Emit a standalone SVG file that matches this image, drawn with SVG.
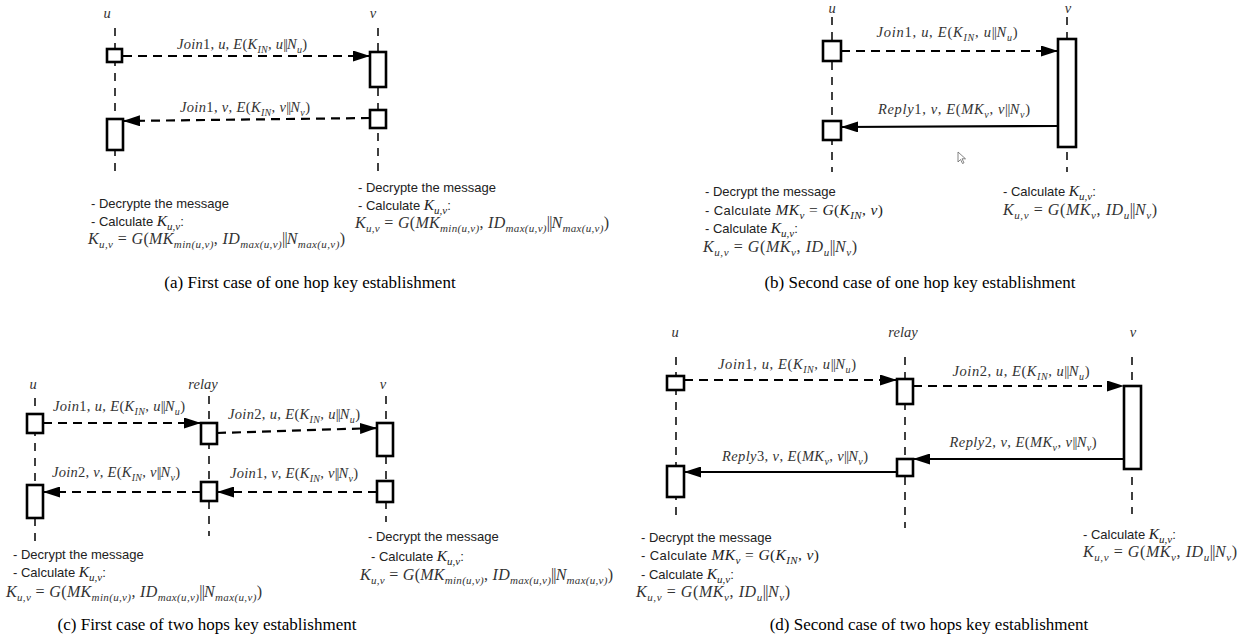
<svg xmlns="http://www.w3.org/2000/svg" width="1239" height="639" viewBox="0 0 1239 639">
<defs>
<marker id="ah" viewBox="0 0 17 11" refX="17" refY="5.5" markerWidth="17" markerHeight="11" orient="auto" markerUnits="userSpaceOnUse"><path d="M0,0 L17,5.5 L0,11 z" fill="#000"/></marker>
</defs>
<style>
.ll{stroke:#111;stroke-width:1.6;stroke-dasharray:8 7;fill:none}
.bx{fill:#fff;stroke:#000;stroke-width:2.6}
.da{stroke:#000;stroke-width:2.2;stroke-dasharray:9 6;fill:none;marker-end:url(#ah)}
.so{stroke:#000;stroke-width:2.2;fill:none;marker-end:url(#ah)}
.m{font-family:"Liberation Serif",serif;font-size:14.5px;fill:#333}
.f{font-size:16px}
.t{font-family:"Liberation Sans",Arial,sans-serif;font-size:13px;fill:#222}
.mf{font-family:"Liberation Serif",serif;font-size:15.5px}
.i{font-style:italic}
.s{font-size:10px;baseline-shift:-3.5px;font-style:italic}
.f .s,.t .s{font-size:11px}
.b{font-style:normal;letter-spacing:-1.2px}
.cap{font-family:"Liberation Serif",serif;font-size:17px;fill:#000;text-anchor:middle}
.c{text-anchor:middle}
</style>
<rect width="1239" height="639" fill="#fff"/>

<g id="connectors">
<line class="ll" x1="115" y1="28" x2="115" y2="176"/>
<line class="ll" x1="378" y1="28" x2="378" y2="172"/>
<line class="ll" x1="832" y1="17" x2="832" y2="172"/>
<line class="ll" x1="1067" y1="17" x2="1067" y2="172"/>
<line class="ll" x1="35" y1="398" x2="35" y2="546"/>
<line class="ll" x1="209" y1="396" x2="209" y2="536"/>
<line class="ll" x1="386" y1="396" x2="386" y2="522"/>
<line class="ll" x1="676" y1="357" x2="676" y2="521"/>
<line class="ll" x1="905" y1="357" x2="905" y2="528"/>
<line class="ll" x1="1132" y1="357" x2="1132" y2="514"/>
<line class="da" x1="123" y1="56" x2="370" y2="56"/>
<line class="da" x1="370" y1="118" x2="123" y2="121"/>
<line class="da" x1="841" y1="51" x2="1058" y2="51"/>
<line class="so" x1="1058" y1="126" x2="841" y2="127"/>
<line class="da" x1="43" y1="423" x2="201" y2="423"/>
<line class="da" x1="217" y1="433" x2="377" y2="428"/>
<line class="da" x1="377" y1="492" x2="217" y2="492"/>
<line class="da" x1="201" y1="492" x2="43" y2="492"/>
<line class="da" x1="684" y1="380" x2="897" y2="380"/>
<line class="da" x1="913" y1="386" x2="1124" y2="386"/>
<line class="so" x1="1124" y1="459" x2="913" y2="459"/>
<line class="so" x1="897" y1="472" x2="684" y2="472"/>
</g>

<g id="panel-a">
<g id="a-u"><text class="m i c" x="107" y="18">u</text>
<rect class="bx" x="107" y="49" width="15" height="13"/>
<rect class="bx" x="107" y="119" width="16" height="31"/></g>
<g id="a-v"><text class="m i c" x="373" y="18">v</text>
<rect class="bx" x="370" y="52" width="16" height="35"/>
<rect class="bx" x="370" y="110" width="16" height="18"/></g>
<text class="m c" x="242" y="49" textLength="130" lengthAdjust="spacing"><tspan class="i">Join</tspan>1, <tspan class="i">u</tspan>, <tspan class="i">E</tspan>(<tspan class="i">K</tspan><tspan class="s">IN</tspan>, <tspan class="i">u</tspan><tspan class="b">||</tspan><tspan class="i">N</tspan><tspan class="s">u</tspan>)</text>
<text class="m c" x="245" y="112" textLength="130" lengthAdjust="spacing"><tspan class="i">Join</tspan>1, <tspan class="i">v</tspan>, <tspan class="i">E</tspan>(<tspan class="i">K</tspan><tspan class="s">IN</tspan>, <tspan class="i">v</tspan><tspan class="b">||</tspan><tspan class="i">N</tspan><tspan class="s">v</tspan>)</text>
<g id="a-note-u">
<text class="t" x="91" y="208">- Decrypte the message</text>
<text class="t" x="91" y="226">- Calculate <tspan class="mf i">K</tspan><tspan class="mf s">u,v</tspan>:</text>
<text class="m f" x="88" y="244" textLength="257" lengthAdjust="spacing"><tspan class="i">K</tspan><tspan class="s">u,v</tspan> = <tspan class="i">G</tspan>(<tspan class="i">MK</tspan><tspan class="s">min(u,v)</tspan>, <tspan class="i">ID</tspan><tspan class="s">max(u,v)</tspan><tspan class="b">||</tspan><tspan class="i">N</tspan><tspan class="s">max(u,v)</tspan>)</text>
</g>
<g id="a-note-v">
<text class="t" x="358" y="192">- Decrypte the message</text>
<text class="t" x="358" y="210">- Calculate <tspan class="mf i">K</tspan><tspan class="mf s">u,v</tspan>:</text>
<text class="m f" x="355" y="228" textLength="254" lengthAdjust="spacing"><tspan class="i">K</tspan><tspan class="s">u,v</tspan> = <tspan class="i">G</tspan>(<tspan class="i">MK</tspan><tspan class="s">min(u,v)</tspan>, <tspan class="i">ID</tspan><tspan class="s">max(u,v)</tspan><tspan class="b">||</tspan><tspan class="i">N</tspan><tspan class="s">max(u,v)</tspan>)</text>
</g>
<text class="cap" x="310" y="288">(a) First case of one hop key establishment</text>
</g>

<g id="panel-b">
<g id="b-u"><text class="m i c" x="832" y="13">u</text>
<rect class="bx" x="823" y="41" width="18" height="20"/>
<rect class="bx" x="823" y="121" width="18" height="19"/></g>
<g id="b-v"><text class="m i c" x="1068" y="13">v</text>
<rect class="bx" x="1058" y="39" width="18" height="108"/></g>
<text class="m c" x="947" y="37" textLength="141" lengthAdjust="spacing"><tspan class="i">Join</tspan>1, <tspan class="i">u</tspan>, <tspan class="i">E</tspan>(<tspan class="i">K</tspan><tspan class="s">IN</tspan>, <tspan class="i">u</tspan><tspan class="b">||</tspan><tspan class="i">N</tspan><tspan class="s">u</tspan>)</text>
<text class="m c" x="954" y="114" textLength="152" lengthAdjust="spacing"><tspan class="i">Reply</tspan>1, <tspan class="i">v</tspan>, <tspan class="i">E</tspan>(<tspan class="i">MK</tspan><tspan class="s">v</tspan>, <tspan class="i">v</tspan><tspan class="b">||</tspan><tspan class="i">N</tspan><tspan class="s">v</tspan>)</text>
<path d="M958,152 L958,162 L960.5,159.5 L962.5,163.5 L964,162.8 L962,158.8 L965.5,158.8 Z" fill="#fff" stroke="#666" stroke-width="0.8"/>
<g id="b-note-u">
<text class="t" x="705" y="196">- Decrypt the message</text>
<text class="t" x="705" y="215" textLength="178" lengthAdjust="spacing">- Calculate <tspan class="mf i">MK</tspan><tspan class="mf s">v</tspan><tspan class="mf"> = </tspan><tspan class="mf i">G</tspan><tspan class="mf">(</tspan><tspan class="mf i">K</tspan><tspan class="mf s">IN</tspan><tspan class="mf">, </tspan><tspan class="mf i">v</tspan><tspan class="mf">)</tspan></text>
<text class="t" x="705" y="233">- Calculate <tspan class="mf i">K</tspan><tspan class="mf s">u,v</tspan>:</text>
<text class="m f" x="703" y="252" textLength="154" lengthAdjust="spacing"><tspan class="i">K</tspan><tspan class="s">u,v</tspan> = <tspan class="i">G</tspan>(<tspan class="i">MK</tspan><tspan class="s">v</tspan>, <tspan class="i">ID</tspan><tspan class="s">u</tspan><tspan class="b">||</tspan><tspan class="i">N</tspan><tspan class="s">v</tspan>)</text>
</g>
<g id="b-note-v">
<text class="t" x="1003" y="196">- Calculate <tspan class="mf i">K</tspan><tspan class="mf s">u,v</tspan>:</text>
<text class="m f" x="1003" y="215" textLength="154" lengthAdjust="spacing"><tspan class="i">K</tspan><tspan class="s">u,v</tspan> = <tspan class="i">G</tspan>(<tspan class="i">MK</tspan><tspan class="s">v</tspan>, <tspan class="i">ID</tspan><tspan class="s">u</tspan><tspan class="b">||</tspan><tspan class="i">N</tspan><tspan class="s">v</tspan>)</text>
</g>
<text class="cap" x="920" y="288">(b) Second case of one hop key establishment</text>
</g>

<g id="panel-c">
<g id="c-u"><text class="m i c" x="33" y="389">u</text>
<rect class="bx" x="27" y="414" width="16" height="19"/>
<rect class="bx" x="27" y="485" width="16" height="33"/></g>
<g id="c-relay"><text class="m i c" x="203" y="389">relay</text>
<rect class="bx" x="201" y="423" width="16" height="21"/>
<rect class="bx" x="201" y="482" width="16" height="19"/></g>
<g id="c-v"><text class="m i c" x="383" y="389">v</text>
<rect class="bx" x="377" y="423" width="16" height="33"/>
<rect class="bx" x="377" y="481" width="16" height="21"/></g>
<text class="m c" x="119" y="411" textLength="132" lengthAdjust="spacing"><tspan class="i">Join</tspan>1, <tspan class="i">u</tspan>, <tspan class="i">E</tspan>(<tspan class="i">K</tspan><tspan class="s">IN</tspan>, <tspan class="i">u</tspan><tspan class="b">||</tspan><tspan class="i">N</tspan><tspan class="s">u</tspan>)</text>
<text class="m c" x="294" y="419" textLength="132" lengthAdjust="spacing"><tspan class="i">Join</tspan>2, <tspan class="i">u</tspan>, <tspan class="i">E</tspan>(<tspan class="i">K</tspan><tspan class="s">IN</tspan>, <tspan class="i">u</tspan><tspan class="b">||</tspan><tspan class="i">N</tspan><tspan class="s">u</tspan>)</text>
<text class="m c" x="116" y="477" textLength="128" lengthAdjust="spacing"><tspan class="i">Join</tspan>2, <tspan class="i">v</tspan>, <tspan class="i">E</tspan>(<tspan class="i">K</tspan><tspan class="s">IN</tspan>, <tspan class="i">v</tspan><tspan class="b">||</tspan><tspan class="i">N</tspan><tspan class="s">v</tspan>)</text>
<text class="m c" x="294" y="478" textLength="128" lengthAdjust="spacing"><tspan class="i">Join</tspan>1, <tspan class="i">v</tspan>, <tspan class="i">E</tspan>(<tspan class="i">K</tspan><tspan class="s">IN</tspan>, <tspan class="i">v</tspan><tspan class="b">||</tspan><tspan class="i">N</tspan><tspan class="s">v</tspan>)</text>
<g id="c-note-u">
<text class="t" x="13" y="559">- Decrypt the message</text>
<text class="t" x="13" y="577">- Calculate <tspan class="mf i">K</tspan><tspan class="mf s">u,v</tspan>:</text>
<text class="m f" x="6" y="597" textLength="256" lengthAdjust="spacing"><tspan class="i">K</tspan><tspan class="s">u,v</tspan> = <tspan class="i">G</tspan>(<tspan class="i">MK</tspan><tspan class="s">min(u,v)</tspan>, <tspan class="i">ID</tspan><tspan class="s">max(u,v)</tspan><tspan class="b">||</tspan><tspan class="i">N</tspan><tspan class="s">max(u,v)</tspan>)</text>
</g>
<g id="c-note-v">
<text class="t" x="368" y="541">- Decrypt the message</text>
<text class="t" x="371" y="561">- Calculate <tspan class="mf i">K</tspan><tspan class="mf s">u,v</tspan>:</text>
<text class="m f" x="360" y="580" textLength="253" lengthAdjust="spacing"><tspan class="i">K</tspan><tspan class="s">u,v</tspan> = <tspan class="i">G</tspan>(<tspan class="i">MK</tspan><tspan class="s">min(u,v)</tspan>, <tspan class="i">ID</tspan><tspan class="s">max(u,v)</tspan><tspan class="b">||</tspan><tspan class="i">N</tspan><tspan class="s">max(u,v)</tspan>)</text>
</g>
<text class="cap" x="207" y="630">(c) First case of two hops key establishment</text>
</g>

<g id="panel-d">
<g id="d-u"><text class="m i c" x="675" y="337">u</text>
<rect class="bx" x="667" y="376" width="17" height="14"/>
<rect class="bx" x="667" y="466" width="17" height="31"/></g>
<g id="d-relay"><text class="m i c" x="903" y="337">relay</text>
<rect class="bx" x="897" y="379" width="16" height="25"/>
<rect class="bx" x="897" y="459" width="16" height="17"/></g>
<g id="d-v"><text class="m i c" x="1133" y="337">v</text>
<rect class="bx" x="1124" y="386" width="17" height="83"/></g>
<text class="m c" x="787" y="369" textLength="138" lengthAdjust="spacing"><tspan class="i">Join</tspan>1, <tspan class="i">u</tspan>, <tspan class="i">E</tspan>(<tspan class="i">K</tspan><tspan class="s">IN</tspan>, <tspan class="i">u</tspan><tspan class="b">||</tspan><tspan class="i">N</tspan><tspan class="s">u</tspan>)</text>
<text class="m c" x="1021" y="376" textLength="137" lengthAdjust="spacing"><tspan class="i">Join</tspan>2, <tspan class="i">u</tspan>, <tspan class="i">E</tspan>(<tspan class="i">K</tspan><tspan class="s">IN</tspan>, <tspan class="i">u</tspan><tspan class="b">||</tspan><tspan class="i">N</tspan><tspan class="s">u</tspan>)</text>
<text class="m c" x="1023" y="447" textLength="147" lengthAdjust="spacing"><tspan class="i">Reply</tspan>2, <tspan class="i">v</tspan>, <tspan class="i">E</tspan>(<tspan class="i">MK</tspan><tspan class="s">v</tspan>, <tspan class="i">v</tspan><tspan class="b">||</tspan><tspan class="i">N</tspan><tspan class="s">v</tspan>)</text>
<text class="m c" x="795" y="461" textLength="146" lengthAdjust="spacing"><tspan class="i">Reply</tspan>3, <tspan class="i">v</tspan>, <tspan class="i">E</tspan>(<tspan class="i">MK</tspan><tspan class="s">v</tspan>, <tspan class="i">v</tspan><tspan class="b">||</tspan><tspan class="i">N</tspan><tspan class="s">v</tspan>)</text>
<g id="d-note-u">
<text class="t" x="641" y="542">- Decrypt the message</text>
<text class="t" x="641" y="560" textLength="178" lengthAdjust="spacing">- Calculate <tspan class="mf i">MK</tspan><tspan class="mf s">v</tspan><tspan class="mf"> = </tspan><tspan class="mf i">G</tspan><tspan class="mf">(</tspan><tspan class="mf i">K</tspan><tspan class="mf s">IN</tspan><tspan class="mf">, </tspan><tspan class="mf i">v</tspan><tspan class="mf">)</tspan></text>
<text class="t" x="641" y="579">- Calculate <tspan class="mf i">K</tspan><tspan class="mf s">u,v</tspan>:</text>
<text class="m f" x="636" y="597" textLength="154" lengthAdjust="spacing"><tspan class="i">K</tspan><tspan class="s">u,v</tspan> = <tspan class="i">G</tspan>(<tspan class="i">MK</tspan><tspan class="s">v</tspan>, <tspan class="i">ID</tspan><tspan class="s">u</tspan><tspan class="b">||</tspan><tspan class="i">N</tspan><tspan class="s">v</tspan>)</text>
</g>
<g id="d-note-v">
<text class="t" x="1083" y="539">- Calculate <tspan class="mf i">K</tspan><tspan class="mf s">u,v</tspan>:</text>
<text class="m f" x="1083" y="557" textLength="154" lengthAdjust="spacing"><tspan class="i">K</tspan><tspan class="s">u,v</tspan> = <tspan class="i">G</tspan>(<tspan class="i">MK</tspan><tspan class="s">v</tspan>, <tspan class="i">ID</tspan><tspan class="s">u</tspan><tspan class="b">||</tspan><tspan class="i">N</tspan><tspan class="s">v</tspan>)</text>
</g>
<text class="cap" x="929" y="630">(d) Second case of two hops key establishment</text>
</g>
</svg>
